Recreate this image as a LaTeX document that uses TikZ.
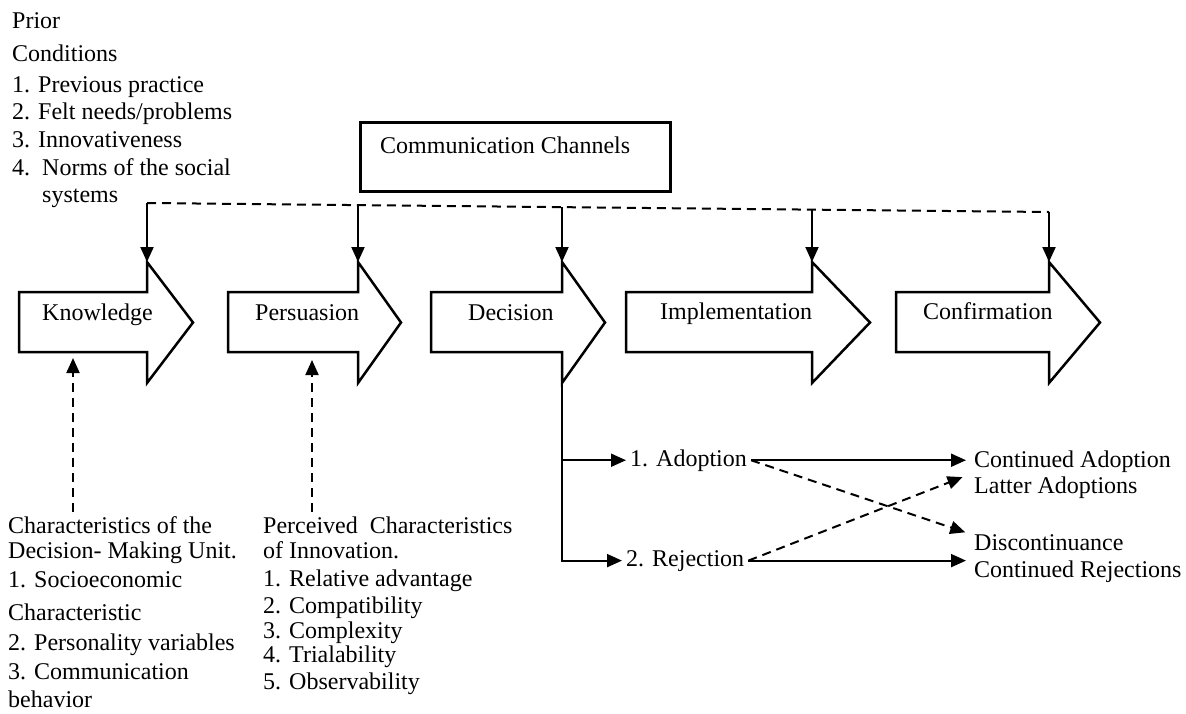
\documentclass[tikz,border=0pt]{standalone}
\usepackage{fontspec}
\setmainfont{Liberation Serif}
\usetikzlibrary{arrows.meta,calc}
\begin{document}
\begin{tikzpicture}[x=1pt,y=-1pt,
  txt/.style={font=\fontsize{24}{28}\selectfont, inner sep=0pt, anchor=base west, align=left, text=black},
  rtxt/.style={txt, inner xsep=4pt},
  barrow/.style={draw, line width=2.5pt, line join=miter, miter limit=10},
  boxstyle/.style={draw, line width=2.5pt, inner sep=0pt, anchor=north west},
  solidline/.style={line width=2pt},
  dashline/.style={line width=2pt, dash pattern=on 9pt off 6pt},
  tip/.style={-{Triangle[length=15pt,width=13pt]}},
]
\useasboundingbox (0,0) rectangle (1186,713);

\newcommand\blockarrow[4]{%
  \draw[barrow] (#1,292) -- (#2,292) -- (#2,262) coordinate (#4HT) -- (#3,322.5) coordinate (#4tip)
    -- (#2,383) coordinate (#4HB) -- (#2,352) -- (#1,352) -- cycle;}

% stage arrows
\blockarrow{19}{147}{193}{k}
\blockarrow{228}{358}{401}{p}
\blockarrow{431}{562}{605}{d}
\blockarrow{626}{812}{870}{i}
\blockarrow{896}{1049}{1100}{c}

\node[txt] (know) at (42,320) {Knowledge};
\node[txt] (pers) at (255,320) {Persuasion};
\node[txt] (deci) at (468,320) {Decision};
\node[txt] (impl) at (660,319) {Implementation};
\node[txt] (conf) at (923,319) {Confirmation};

% communication channels
\node[boxstyle, minimum width=310pt, minimum height=69pt] (comm) at (359,121) {};
\node[txt] (commlbl) at (380,153) {Communication Channels};

% prior conditions (anchor = baseline of last line)
\node[txt] (prior) at (12,202) {Prior\\[5pt]Conditions\\[3pt]1. Previous practice\\[-1pt]2. Felt needs/problems\\3. Innovativeness\\4.\ \ Norms of the social\\[-1pt]\hspace*{30pt}systems};

% bus
\coordinate (b1) at (147,203);
\coordinate (b2) at (358,205.1);
\coordinate (b3) at (562,207.1);
\coordinate (b4) at (812,209.6);
\coordinate (b5) at (1049,212);
\draw[dashline] (b1) -- (b5);
\draw[solidline,tip] (b1) -- (kHT);
\draw[solidline,tip] (b2) -- (pHT);
\draw[solidline,tip] (b3) -- (dHT);
\draw[solidline,tip] (b4) -- (iHT);
\draw[solidline,tip] (b5) -- (cHT);

% bottom texts (anchor = baseline of last line)
\node[txt] (dmu) at (8,707) {Characteristics of the\\[-3pt]Decision- Making Unit.\\[1pt]1. Socioeconomic\\[5pt]Characteristic\\[2pt]2. Personality variables\\[1pt]3. Communication\\behavior};
\node[txt] (pci) at (263,689) {Perceived\ \ Characteristics\\[-3pt]of Innovation.\\1. Relative advantage\\[-1pt]2. Compatibility\\[-3pt]3. Complexity\\[-4pt]4. Trialability\\[-1pt]5. Observability};

\coordinate (kIn) at (73,358);
\coordinate (pIn) at (312,360);
\draw[dashline,tip] ($(dmu.north west -| kIn)+(0,-4)$) -- (kIn);
\draw[dashline,tip] ($(pci.north west -| pIn)+(0,-4)$) -- (pIn);

% decision outcomes
\node[rtxt] (adop) at (626,466) {1. Adoption};
\node[rtxt] (rej) at (622,566) {2. Rejection};
\node[rtxt] (ca) at (970,493) {Continued Adoption\\[-2pt]Latter Adoptions};
\node[rtxt] (dc) at (970,577) {Discontinuance\\[-1pt]Continued Rejections};

\draw[solidline,tip] (dHB) |- (rej.west);
\draw[solidline,tip] (dHB |- adop.west) -- (adop.west);
\draw[solidline,tip,shorten >=4pt] (adop.east) -- (adop.east -| ca.west);
\draw[dashline,tip,shorten >=5pt] (adop.east) -- (dc.north west);
\draw[dashline,tip,shorten >=8pt] (rej.east) -- (ca.west);
\draw[solidline,tip,shorten >=4pt] (rej.east) -- (rej.east -| dc.west);
\end{tikzpicture}
\end{document}
